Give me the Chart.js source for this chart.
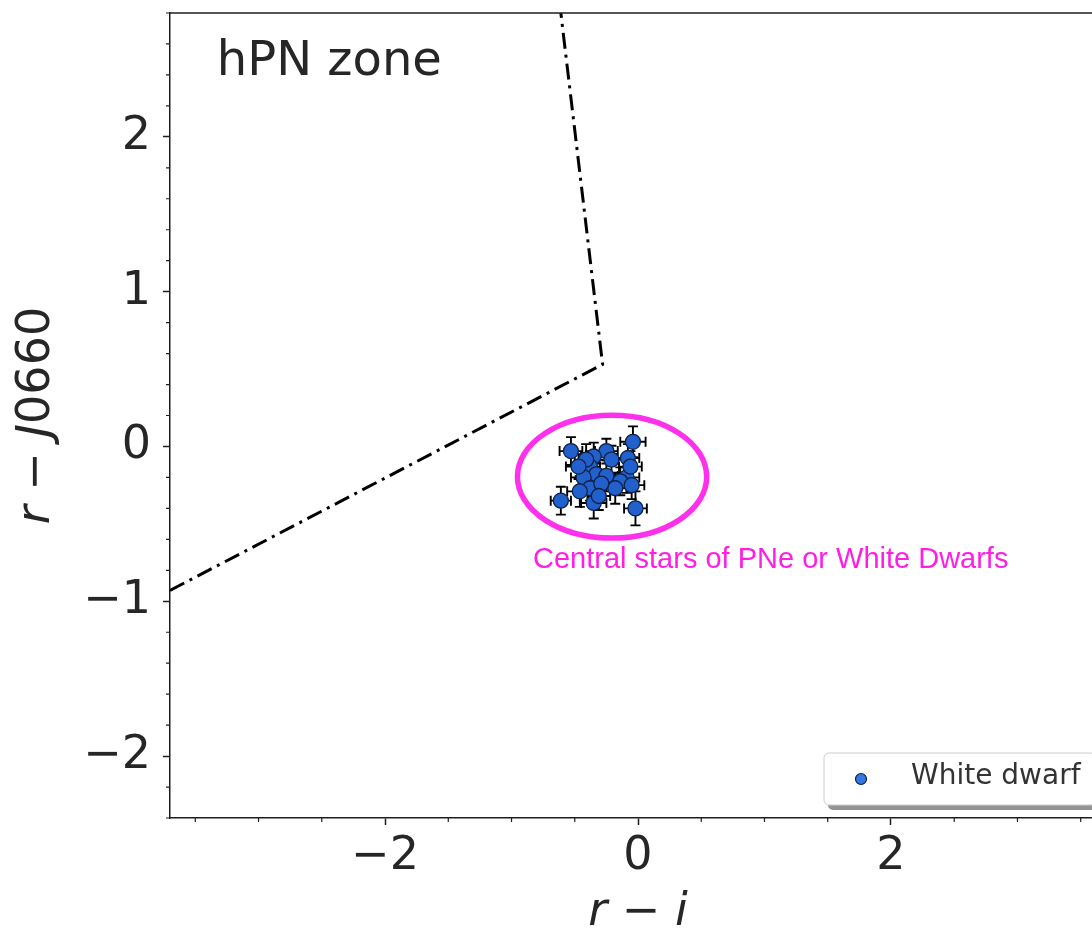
<!DOCTYPE html>
<html>
<head>
<meta charset="utf-8">
<style>
  html, body { margin: 0; padding: 0; overflow: hidden; background: #ffffff; }
  #wrap { width: 1092px; height: 928px; overflow: hidden; position: relative; }
  canvas { display: block; }
</style>
<script src="https://cdn.jsdelivr.net/npm/chart.js@4.4.1/dist/chart.umd.min.js"></script>
</head>
<body>
<div id="wrap"><canvas id="chart" width="1130" height="928"></canvas></div>
<script>
// White dwarf colours: r - i and r - J0660, with 1-sigma uncertainties
const wdRI    = [-0.53, -0.04, -0.61, -0.02, -0.25, -0.35, -0.38, -0.33, -0.43, -0.38, -0.35, -0.08,
                 -0.09, -0.14, -0.18, -0.05, -0.25, -0.29, -0.46, -0.31, -0.41, -0.47, -0.06, -0.21];
const wdRJ    = [-0.03, 0.03, -0.35, -0.40, -0.03, -0.065, -0.13, -0.18, -0.20, -0.27, -0.365, -0.075,
                 -0.20, -0.225, -0.27, -0.25, -0.19, -0.24, -0.29, -0.32, -0.085, -0.13, -0.13, -0.085];
const wdRIErr = [0.09, 0.10, 0.08, 0.09, 0.09, 0.10, 0.08, 0.09, 0.10, 0.09, 0.10, 0.09,
                 0.10, 0.08, 0.09, 0.10, 0.09, 0.08, 0.10, 0.09, 0.09, 0.10, 0.09, 0.10];
const wdRJErr = [0.09, 0.10, 0.09, 0.11, 0.08, 0.09, 0.10, 0.09, 0.10, 0.08, 0.10, 0.09,
                 0.10, 0.09, 0.10, 0.09, 0.10, 0.09, 0.10, 0.09, 0.10, 0.08, 0.10, 0.09];

// hPN selection boundary (dash-dot polyline)
const boundRI = [-3.7, -0.28, -0.61];
const boundRJ = [-0.93, 0.53, 2.8];

// Axis ticks
const xMajorTicks = [-2, 0, 2];
const xMinorTicks = [-3.5, -3, -2.5, -1.5, -1, -0.5, 0.5, 1, 1.5, 2.5, 3, 3.5];
const yMajorTicks = [-2, -1, 0, 1, 2];
const yMinorTicks = [-2.4, -2.2, -1.8, -1.6, -1.4, -1.2, -0.8, -0.6, -0.4, -0.2,
                     0.2, 0.4, 0.6, 0.8, 1.2, 1.4, 1.6, 1.8, 2.2, 2.4, 2.6, 2.8];

// Annotation: ellipse around the white dwarf locus (data units)
const locusEllipse = { cx: -0.205, cy: -0.195, rx: 0.748, ry: 0.397 };
const locusLabel = 'Central stars of PNe or White Dwarfs';
const zoneLabel = 'hPN zone';

// y-axis title pieces: [text, italic?]
const yTitleParts = [['r', true], [' \u2212 ', false], ['J', true], ['0660', false]];

const INK = '#262626';
const AXIS = '#1e1e1e';
const MAGENTA = '#ff30ec';
const MAGENTA_TEXT = '#ff1ee4';
const WD_FILL = '#2260cc';
const WD_EDGE = '#0f2248';

const fmt = v => (v < 0 ? '\u2212' + Math.abs(v) : String(v));

// Error bars, minor ticks, top spine, annotations, y title and legend box
const extras = {
  id: 'extras',
  beforeDatasetsDraw(chart) {
    const { ctx, scales: { x, y } } = chart;
    const cap = 5;
    ctx.save();
    ctx.strokeStyle = '#000000';
    ctx.lineWidth = 1.9;
    wdRI.forEach((v, i) => {
      const px = x.getPixelForValue(v);
      const py = y.getPixelForValue(wdRJ[i]);
      const x0 = x.getPixelForValue(v - wdRIErr[i]);
      const x1 = x.getPixelForValue(v + wdRIErr[i]);
      const y0 = y.getPixelForValue(wdRJ[i] - wdRJErr[i]);
      const y1 = y.getPixelForValue(wdRJ[i] + wdRJErr[i]);
      ctx.beginPath();
      ctx.moveTo(x0, py); ctx.lineTo(x1, py);
      ctx.moveTo(px, y0); ctx.lineTo(px, y1);
      ctx.moveTo(x0, py - cap); ctx.lineTo(x0, py + cap);
      ctx.moveTo(x1, py - cap); ctx.lineTo(x1, py + cap);
      ctx.moveTo(px - cap, y0); ctx.lineTo(px + cap, y0);
      ctx.moveTo(px - cap, y1); ctx.lineTo(px + cap, y1);
      ctx.stroke();
    });
    ctx.restore();
  },
  afterDatasetsDraw(chart) {
    const { ctx, chartArea: a, scales: { x, y } } = chart;
    ctx.save();

    // top spine
    ctx.strokeStyle = AXIS;
    ctx.lineWidth = 1.5;
    ctx.beginPath();
    ctx.moveTo(a.left, a.top);
    ctx.lineTo(a.right, a.top);
    ctx.stroke();

    // minor ticks
    ctx.lineWidth = 1.2;
    ctx.beginPath();
    xMinorTicks.forEach(v => {
      const px = x.getPixelForValue(v);
      ctx.moveTo(px, a.bottom);
      ctx.lineTo(px, a.bottom + 4);
    });
    yMinorTicks.forEach(v => {
      const py = y.getPixelForValue(v);
      ctx.moveTo(a.left, py);
      ctx.lineTo(a.left - 4, py);
    });
    ctx.stroke();

    // ellipse around the locus
    const ecx = x.getPixelForValue(locusEllipse.cx);
    const ecy = y.getPixelForValue(locusEllipse.cy);
    const erx = Math.abs(x.getPixelForValue(locusEllipse.cx + locusEllipse.rx) - ecx);
    const ery = Math.abs(y.getPixelForValue(locusEllipse.cy + locusEllipse.ry) - ecy);
    ctx.strokeStyle = MAGENTA;
    ctx.lineWidth = 5.5;
    ctx.beginPath();
    ctx.ellipse(ecx, ecy, erx, ery, 0, 0, Math.PI * 2);
    ctx.stroke();

    // locus caption
    ctx.fillStyle = MAGENTA_TEXT;
    ctx.font = '29px "Liberation Sans", Arial, sans-serif';
    ctx.textAlign = 'left';
    ctx.textBaseline = 'alphabetic';
    ctx.fillText(locusLabel, x.getPixelForValue(-0.83), y.getPixelForValue(-0.783));

    // zone caption
    ctx.fillStyle = INK;
    ctx.font = '48px "DejaVu Sans", sans-serif';
    ctx.fillText(zoneLabel, x.getPixelForValue(-3.33), y.getPixelForValue(2.398));

    // y-axis title, italic symbols with upright digits
    const fontFor = it => (it ? 'italic ' : '') + '46px "DejaVu Sans", sans-serif';
    let total = 0;
    yTitleParts.forEach(([t, it]) => { ctx.font = fontFor(it); total += ctx.measureText(t).width; });
    ctx.save();
    ctx.translate(37, (a.top + a.bottom) / 2);
    ctx.rotate(-Math.PI / 2);
    ctx.textBaseline = 'middle';
    ctx.fillStyle = INK;
    let cx = -total / 2;
    yTitleParts.forEach(([t, it]) => {
      ctx.font = fontFor(it);
      ctx.fillText(t, cx, 0);
      cx += ctx.measureText(t).width;
    });
    ctx.restore();

    // legend box (lower right)
    const bw = 272, bh = 52;
    const bx = a.right - 10 - bw, by = a.bottom - 13 - bh;
    ctx.fillStyle = 'rgba(0,0,0,0.42)';
    roundRect(ctx, bx + 4, by + 5, bw, bh, 5);
    ctx.fill();
    ctx.fillStyle = '#ffffff';
    ctx.strokeStyle = '#cccccc';
    ctx.lineWidth = 1;
    roundRect(ctx, bx, by, bw, bh, 5);
    ctx.fill();
    ctx.stroke();

    const ds = chart.data.datasets[0];
    ctx.beginPath();
    ctx.arc(bx + 37, by + 26, 5.5, 0, Math.PI * 2);
    ctx.fillStyle = '#3576e0';
    ctx.fill();
    ctx.strokeStyle = WD_EDGE;
    ctx.lineWidth = 1.2;
    ctx.stroke();

    ctx.fillStyle = '#333333';
    ctx.font = '28px "DejaVu Sans", sans-serif';
    ctx.textBaseline = 'middle';
    ctx.fillText(ds.label, bx + 87, by + 24);

    ctx.restore();
  }
};

function roundRect(ctx, x, y, w, h, r) {
  ctx.beginPath();
  ctx.moveTo(x + r, y);
  ctx.lineTo(x + w - r, y);
  ctx.arcTo(x + w, y, x + w, y + r, r);
  ctx.lineTo(x + w, y + h - r);
  ctx.arcTo(x + w, y + h, x + w - r, y + h, r);
  ctx.lineTo(x + r, y + h);
  ctx.arcTo(x, y + h, x, y + h - r, r);
  ctx.lineTo(x, y + r);
  ctx.arcTo(x, y, x + r, y, r);
  ctx.closePath();
}

const tickFont = { family: 'DejaVu Sans', size: 46 };
const titleFont = { family: 'DejaVu Sans', size: 46, style: 'italic' };

new Chart(document.getElementById('chart'), {
  type: 'scatter',
  data: {
    datasets: [
      {
        label: 'White dwarf',
        data: wdRI.map((v, i) => ({ x: v, y: wdRJ[i] })),
        pointRadius: 7.5,
        pointBackgroundColor: WD_FILL,
        pointBorderColor: WD_EDGE,
        pointBorderWidth: 1.3,
        order: 1
      },
      {
        label: 'hPN boundary',
        data: boundRI.map((v, i) => ({ x: v, y: boundRJ[i] })),
        showLine: true,
        borderColor: '#000000',
        borderWidth: 3,
        borderDash: [16, 6, 3, 6],
        pointRadius: 0,
        fill: false,
        order: 2
      }
    ]
  },
  options: {
    responsive: false,
    animation: false,
    devicePixelRatio: 1,
    layout: { padding: { top: 13, right: 24, bottom: 0, left: 0 } },
    plugins: { legend: { display: false }, tooltip: { enabled: false } },
    scales: {
      x: {
        type: 'linear',
        min: -3.7,
        max: 3.7,
        afterBuildTicks: s => { s.ticks = xMajorTicks.map(v => ({ value: v })); },
        afterFit: s => { s.height = 110; s.paddingLeft = 0; s.paddingRight = 0; },
        ticks: { callback: fmt, font: tickFont, color: INK, padding: 4, maxRotation: 0, autoSkip: false },
        grid: { drawOnChartArea: false, drawTicks: true, tickLength: 7, tickColor: AXIS, tickWidth: 1.5 },
        border: { display: true, color: AXIS, width: 1.5 },
        title: { display: true, text: 'r \u2212 i', font: titleFont, color: INK, padding: { top: 0, bottom: -13 } }
      },
      y: {
        type: 'linear',
        min: -2.4,
        max: 2.8,
        afterBuildTicks: s => { s.ticks = yMajorTicks.map(v => ({ value: v })); },
        afterFit: s => { s.width = 170; s.paddingTop = 0; s.paddingBottom = 0; },
        ticks: { callback: fmt, font: tickFont, color: INK, padding: 12, autoSkip: false },
        grid: { drawOnChartArea: false, drawTicks: true, tickLength: 7, tickColor: AXIS, tickWidth: 1.5 },
        border: { display: true, color: AXIS, width: 1.5 },
        title: { display: false }
      }
    }
  },
  plugins: [extras]
});
</script>
</body>
</html>
